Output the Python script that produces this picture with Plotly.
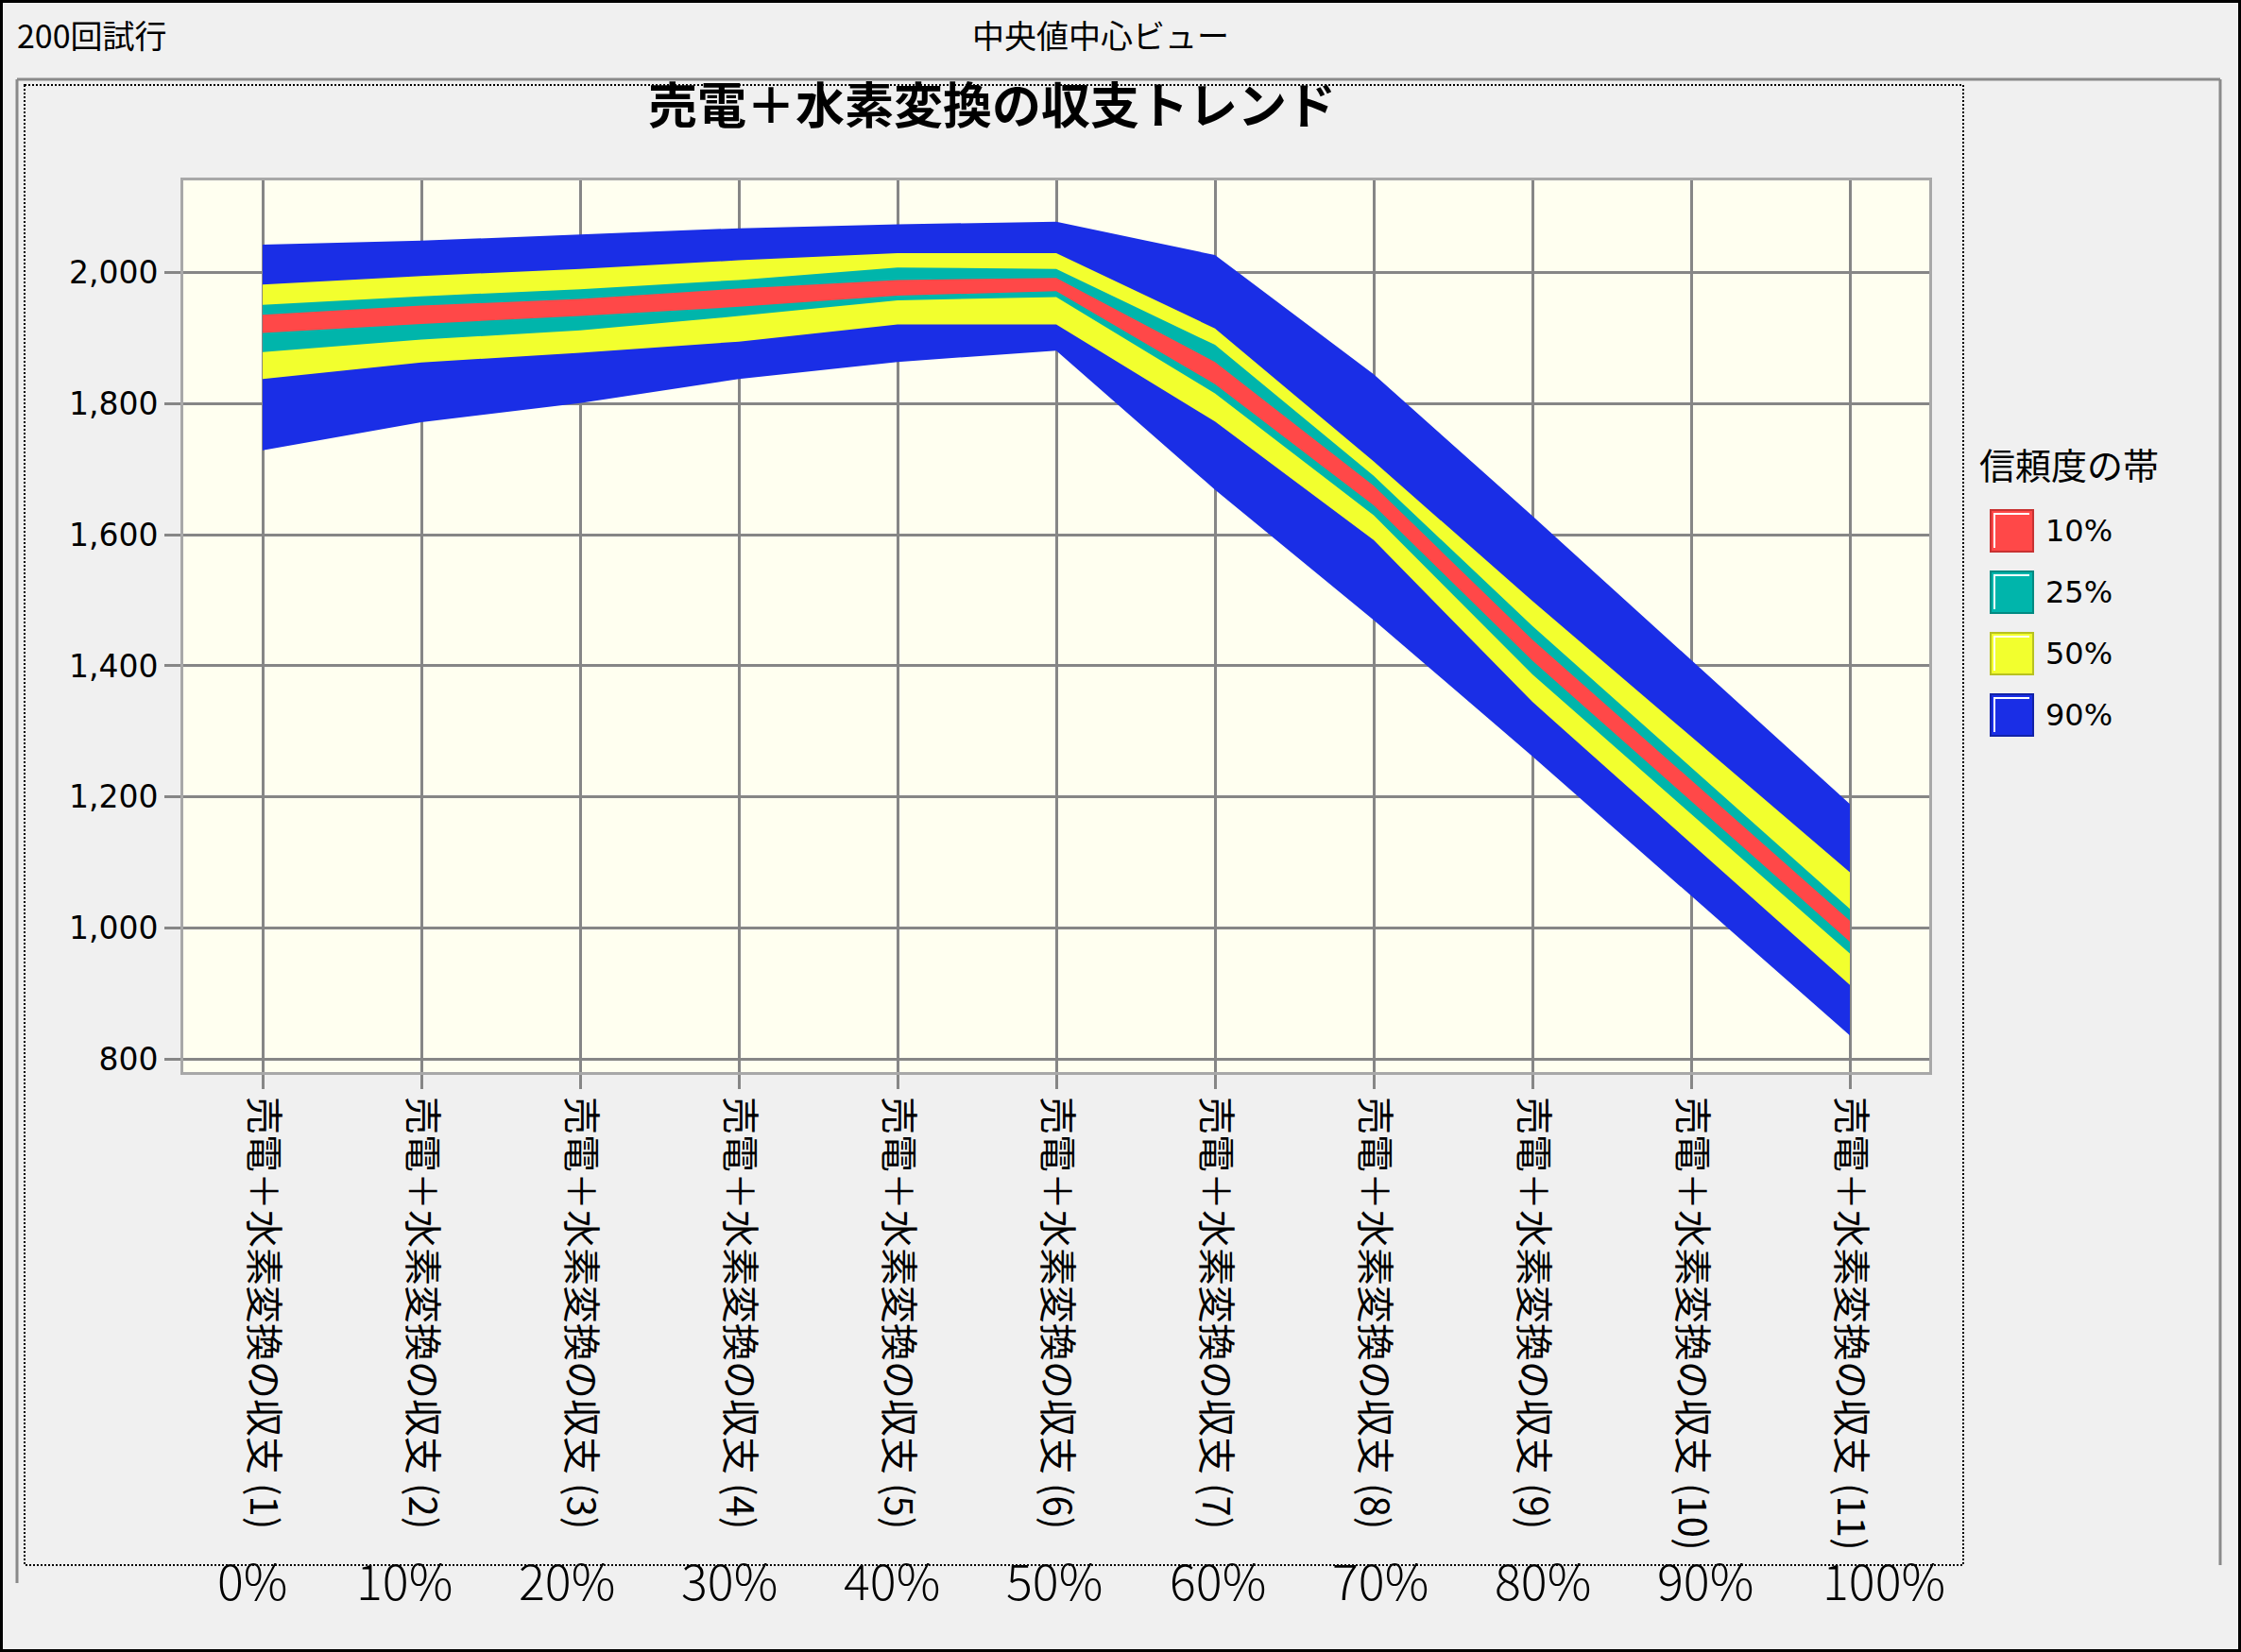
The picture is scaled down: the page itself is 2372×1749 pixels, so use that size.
import plotly.graph_objects as go

# ---------------- data ----------------
categories = [
    "売電＋水素変換の収支 (1)", "売電＋水素変換の収支 (2)", "売電＋水素変換の収支 (3)",
    "売電＋水素変換の収支 (4)", "売電＋水素変換の収支 (5)", "売電＋水素変換の収支 (6)",
    "売電＋水素変換の収支 (7)", "売電＋水素変換の収支 (8)", "売電＋水素変換の収支 (9)",
    "売電＋水素変換の収支 (10)", "売電＋水素変換の収支 (11)",
]
pct_labels = ["0%", "10%", "20%", "30%", "40%", "50%", "60%", "70%", "80%", "90%", "100%"]
y_ticks = [800, 1000, 1200, 1400, 1600, 1800, 2000]

# band edges (lower / upper)
p05 = [1729, 1772, 1801, 1838, 1864, 1881, 1669, 1470, 1262, 1049, 836]
p25 = [1838, 1863, 1878, 1895, 1921, 1921, 1773, 1592, 1345, 1129, 913]
p375 = [1879, 1898, 1912, 1934, 1958, 1963, 1816, 1630, 1387, 1174, 961]
p45 = [1908, 1922, 1934, 1948, 1965, 1972, 1830, 1645, 1408, 1194, 979]
p55 = [1936, 1950, 1960, 1976, 1989, 1992, 1864, 1675, 1440, 1226, 1011]
p625 = [1951, 1964, 1975, 1989, 2008, 2006, 1890, 1690, 1461, 1245, 1029]
p75 = [1982, 1995, 2006, 2019, 2030, 2030, 1915, 1712, 1499, 1292, 1085]
p95 = [2043, 2049, 2059, 2068, 2074, 2078, 2027, 1845, 1629, 1409, 1189]

band_names = ["90%", "50%", "25%", "10%"]
band_lows = [p05, p25, p375, p45]
band_highs = [p95, p75, p625, p55]
band_colors = ["#1a2ee6", "#f2ff2e", "#00b5ab", "#ff4848"]
band_edges = ["#1222a8", "#b8c220", "#008a82", "#c83232"]

# ---------------- layout geometry ----------------
W, H = 2372, 1749
L, R, T, B = 194, 330, 191, 614
PW, PH = W - L - R, H - T - B


def px(x):
    return (x - L) / PW


def py(y):
    return (H - B - y) / PH


fig = go.Figure()
for name, lo, hi, col in zip(band_names, band_lows, band_highs, band_colors):
    fig.add_trace(go.Scatter(
        x=categories + categories[::-1],
        y=lo + hi[::-1],
        fill="toself", fillcolor=col, mode="lines",
        line=dict(width=0, color=col), name=name,
        showlegend=False, hoverinfo="skip",
    ))

shapes = []
annotations = []

# outer window border
shapes.append(dict(type="rect", xref="paper", yref="paper",
                   x0=px(0), x1=px(W), y0=py(0), y1=py(H),
                   line=dict(color="#000000", width=6)))
# group box lines
GB_L, GB_R, GB_T = 18, 2350, 84
shapes.append(dict(type="line", xref="paper", yref="paper",
                   x0=px(GB_L), x1=px(GB_R), y0=py(GB_T), y1=py(GB_T),
                   line=dict(color="#8a8a8a", width=3)))
shapes.append(dict(type="line", xref="paper", yref="paper",
                   x0=px(GB_L), x1=px(GB_L), y0=py(GB_T), y1=py(1676),
                   line=dict(color="#8a8a8a", width=3)))
shapes.append(dict(type="line", xref="paper", yref="paper",
                   x0=px(GB_R), x1=px(GB_R), y0=py(GB_T), y1=py(1657),
                   line=dict(color="#8a8a8a", width=3)))
# dotted frame
shapes.append(dict(type="rect", xref="paper", yref="paper",
                   x0=px(26), x1=px(2078), y0=py(90), y1=py(1657),
                   line=dict(color="#000000", width=2, dash="2px,2px")))

# header texts
annotations.append(dict(text="200回試行", xref="paper", yref="paper",
                        x=px(16), y=py(36), xanchor="left", yanchor="middle",
                        showarrow=False, font=dict(size=34, color="#000")))
annotations.append(dict(text="中央値中心ビュー", xref="paper", yref="paper",
                        x=px(1165), y=py(36), xanchor="center", yanchor="middle",
                        showarrow=False, font=dict(size=34, color="#000")))

# percentage labels under the category labels
P_STEP = 172.1
for i, lab in enumerate(pct_labels):
    if i == 0:
        xa, xp = "right", 478 - P_STEP
    elif i == len(pct_labels) - 1:
        xa, xp = "left", 378 + (i - 1) * P_STEP
    else:
        xa, xp = "center", 428 + (i - 1) * P_STEP
    annotations.append(dict(text=lab, xref="paper", yref="paper",
                            x=px(xp), y=py(1672), xanchor=xa, yanchor="middle",
                            showarrow=False,
                            font=dict(size=52, color="#000", weight=300)))

# manual legend
annotations.append(dict(text="信頼度の帯", xref="paper", yref="paper",
                        x=px(2093), y=py(490), xanchor="left", yanchor="middle",
                        showarrow=False, font=dict(size=38, color="#000")))
SW_X0, SW_X1, SW_S = 2107, 2152, 44
for k, idx in enumerate([3, 2, 1, 0]):
    cy = 562 + k * 65
    y0, y1 = cy - SW_S / 2, cy + SW_S / 2
    shapes.append(dict(type="rect", xref="paper", yref="paper",
                       x0=px(SW_X0), x1=px(SW_X1), y0=py(y1), y1=py(y0),
                       fillcolor=band_colors[idx],
                       line=dict(color=band_edges[idx], width=2)))
    shapes.append(dict(type="path", xref="paper", yref="paper",
                       path=f"M {px(SW_X0 + 4)},{py(y1 - 4)} L {px(SW_X0 + 4)},{py(y0 + 4)} L {px(SW_X1 - 4)},{py(y0 + 4)}",
                       line=dict(color="#ffffff", width=2)))
    annotations.append(dict(text=band_names[idx], xref="paper", yref="paper",
                            x=px(2163), y=py(cy), xanchor="left", yanchor="middle",
                            showarrow=False,
                            font=dict(size=32, color="#000", family="DejaVu Sans")))

fig.update_layout(
    width=W, height=H,
    margin=dict(l=L, r=R, t=T, b=B, pad=0),
    paper_bgcolor="#f0f0f0", plot_bgcolor="#fffff0",
    font=dict(family="Noto Sans CJK JP", color="#000"),
    showlegend=False,
    title=dict(text="売電＋水素変換の収支トレンド", xref="container", yref="container",
               x=1050 / W, y=1 - 113 / H, xanchor="center", yanchor="middle",
               font=dict(size=52, color="#000", weight="bold")),
    shapes=shapes, annotations=annotations,
)
fig.update_xaxes(
    type="category", categoryorder="array", categoryarray=categories,
    range=[-0.5, len(categories) - 0.5], automargin=False,
    tickangle=90, tickfont=dict(size=40, color="#000", family="Noto Sans CJK JP"),
    showgrid=True, gridcolor="#868686", gridwidth=3,
    ticks="outside", ticklen=15, tickwidth=3, tickcolor="#868686",
    showline=True, mirror=True, linecolor="#a8a8a8", linewidth=3,
    zeroline=False,
)
fig.update_yaxes(
    range=[780, 2141], tickvals=y_ticks, tickformat=",", automargin=False,
    tickfont=dict(size=33, color="#000", family="DejaVu Sans"),
    showgrid=True, gridcolor="#868686", gridwidth=3,
    ticks="outside", ticklen=17, tickwidth=3, tickcolor="#868686",
    showline=True, mirror=True, linecolor="#a8a8a8", linewidth=3,
    zeroline=False,
)

fig.write_html("out.html")
